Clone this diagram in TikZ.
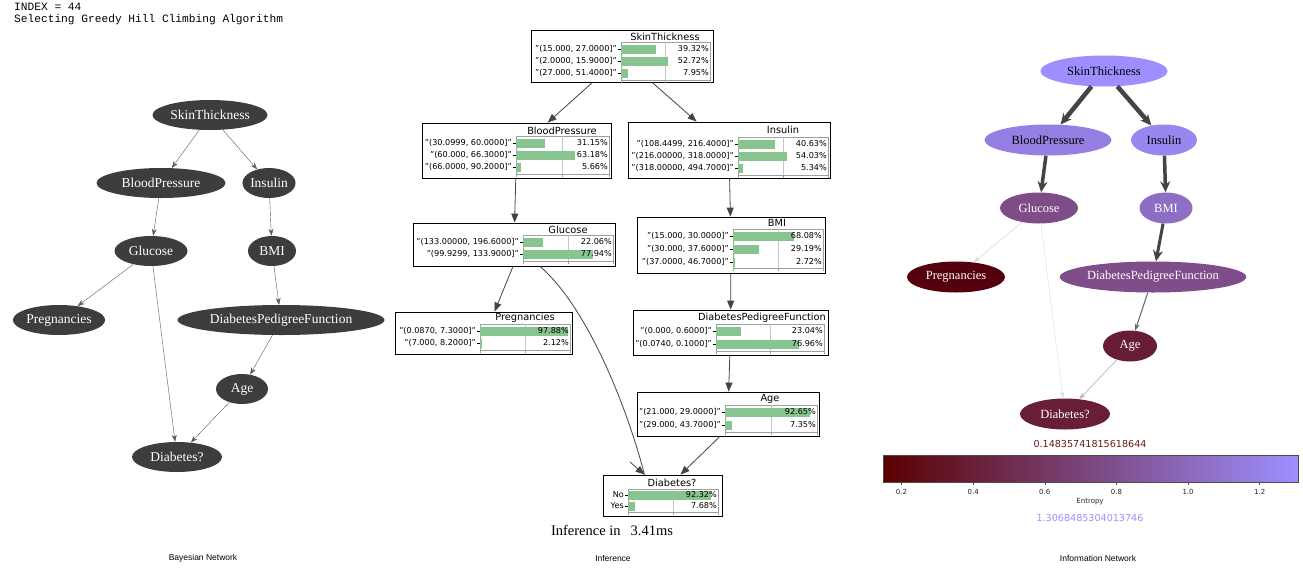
\documentclass[tikz,border=0pt]{standalone}
\usepackage{fontspec}
\setmainfont{Liberation Serif}
\setsansfont{DejaVu Sans}
\newfontfamily\idxfont{Liberation Mono}
\newfontfamily\capfont{Liberation Sans}
\usetikzlibrary{shapes.geometric,arrows.meta}

\definecolor{bnfill}{HTML}{3D3D3D}
\definecolor{bnline}{HTML}{5A5A5A}
\definecolor{barfill}{HTML}{88C48F}
\definecolor{ieline}{HTML}{444444}
\definecolor{cbLow}{HTML}{5A0000}
\definecolor{cbHigh}{HTML}{9D8FFF}
% entropy colours of the information network
\colorlet{eST}{cbHigh}
\colorlet{eBP}{cbHigh!89!cbLow}
\colorlet{eIns}{cbHigh!94!cbLow}
\colorlet{eGlu}{cbHigh!53!cbLow}
\colorlet{eBMI}{cbHigh!77!cbLow}
\colorlet{ePreg}{cbLow!95!blue}
\colorlet{eDPF}{cbHigh!54!cbLow}
\colorlet{eAge}{cbHigh!20!cbLow}
\colorlet{eDia}{cbHigh!21!cbLow}

\tikzset{
  bnnode/.style={ellipse, fill=bnfill, text=white, inner sep=0pt, minimum height=30pt,
    font=\fontsize{13.5}{16}\selectfont},
  bnedge/.style={draw=bnline, -{Stealth[length=7pt,width=5pt]}},
  cpt/.style={draw, rectangle, inner sep=0pt, line width=0.8pt},
  cpttitle/.style={font=\sffamily\fontsize{9.8}{12}\selectfont, inner sep=0pt},
  lbl/.style={font=\sffamily\fontsize{8.1}{10}\selectfont, inner sep=0pt},
  ieedge/.style={draw=ieline, line width=0.8pt, -{Triangle[length=9pt,width=7pt]}},
  innode/.style={ellipse, inner sep=0pt, minimum height=31pt, font=\fontsize{12.5}{15}\selectfont},
  inedge/.style={draw=ieline, -{Stealth[length=11pt,width=10pt]}},
  thinedge/.style={-{Stealth[length=7pt,width=5pt]}},
  caption/.style={font=\capfont\fontsize{8.5}{10}\selectfont}
}

% one row of a table: name, x0, x1, y, label, percent
\newcommand\cptrow[6]{%
  \fill[barfill] (#2,#4-4.5) rectangle ({#2+(#3-#2)*#6/100},#4+4.5);
  \draw[line width=0.5pt] (#2-3,#4) -- (#2,#4);
  \node[lbl, anchor=east] (#1-l) at (#2-4,#4) {#5};
  \node[lbl, anchor=east] (#1-p) at (#3-1,#4) {#6\%};
}
% axes frame of a table: x0, x1, top, bottom
\newcommand\cptframe[4]{%
  \draw[gray!75, line width=0.5pt] (#1,#3) rectangle (#2,#4);
  \draw[gray!45, line width=0.5pt] ({(#1+#2)/2},#3) -- ({(#1+#2)/2},#4);
  \foreach \tx in {#1,{(#1+#2)/2},#2}
    \draw[gray!75, line width=0.5pt] ({\tx},#4) -- ({\tx},#4+2.5);
}

\begin{document}
\begin{tikzpicture}[x=1pt, y=-1pt]
  \fill[white] (0,0) rectangle (1303,568);
  \useasboundingbox (0,0) rectangle (1303,568);

  \node[font=\idxfont\fontsize{11.2}{12}\selectfont, anchor=north west, align=left, inner sep=0pt]
    (index) at (14,2.5) {INDEX = 44\\Selecting Greedy Hill Climbing Algorithm};

  % Bayesian network
  \node[bnnode, minimum width=115pt] (bST) at (210,115) {SkinThickness};
  \node[bnnode, minimum width=129pt] (bBP) at (161,183) {BloodPressure};
  \node[bnnode, minimum width=53pt] (bIns) at (269,183) {Insulin};
  \node[bnnode, minimum width=73pt] (bGlu) at (151,251) {Glucose};
  \node[bnnode, minimum width=48pt] (bBMI) at (272,251) {BMI};
  \node[bnnode, minimum width=81pt] (bPreg) at (59,320) {Pregnancies};
  \node[bnnode, minimum width=207pt] (bDPF) at (281,320) {DiabetesPedigreeFunction};
  \node[bnnode, minimum width=52pt] (bAge) at (242,389) {Age};
  \node[bnnode, minimum width=90pt] (bDia) at (177,457) {Diabetes?};

  \draw[bnedge] (bST) -- (bBP);
  \draw[bnedge] (bST) -- (bIns);
  \draw[bnedge] (bBP) -- (bGlu);
  \draw[bnedge] (bIns) -- (bBMI);
  \draw[bnedge] (bGlu) -- (bPreg);
  \draw[bnedge] (bGlu) -- (bDia);
  \draw[bnedge] (bBMI) -- (bDPF);
  \draw[bnedge] (bDPF) -- (bAge);
  \draw[bnedge] (bAge) -- (bDia);

  \node[caption] (capB) at (203,558) {Bayesian Network};

  % Inference
  \node[cpt, minimum width=182pt, minimum height=52pt] (mST) at (622,56) {};
  \node[cpttitle] (mST-t) at (665,37) {SkinThickness};
  \cptframe{621}{710}{42}{80}
  \cptrow{mST1}{621}{710}{49}{"(15.000, 27.0000]"}{39.32}
  \cptrow{mST2}{621}{710}{61}{"(2.0000, 15.9000]"}{52.72}
  \cptrow{mST3}{621}{710}{73}{"(27.000, 51.4000]"}{7.95}

  \node[cpt, minimum width=189pt, minimum height=55pt] (mBP) at (516.5,150.5) {};
  \node[cpttitle] (mBP-t) at (562,131) {BloodPressure};
  \cptframe{516}{609}{136}{174}
  \cptrow{mBP1}{516}{609}{143}{"(30.0999, 60.0000]"}{31.15}
  \cptrow{mBP2}{516}{609}{155}{"(60.000, 66.3000]"}{63.18}
  \cptrow{mBP3}{516}{609}{167}{"(66.0000, 90.2000]"}{5.66}

  \node[cpt, minimum width=202pt, minimum height=56pt] (mIns) at (729,150) {};
  \node[cpttitle] (mIns-t) at (783,130) {Insulin};
  \cptframe{738}{828}{137}{175}
  \cptrow{mIns1}{738}{828}{144}{"(108.4499, 216.4000]"}{40.63}
  \cptrow{mIns2}{738}{828}{156}{"(216.00000, 318.0000]"}{54.03}
  \cptrow{mIns3}{738}{828}{168}{"(318.00000, 494.7000]"}{5.34}

  \node[cpt, minimum width=202pt, minimum height=43pt] (mGlu) at (514,244.5) {};
  \node[cpttitle] (mGlu-t) at (568,230) {Glucose};
  \cptframe{523}{613}{235}{261}
  \cptrow{mGlu1}{523}{613}{242}{"(133.00000, 196.6000]"}{22.06}
  \cptrow{mGlu2}{523}{613}{254}{"(99.9299, 133.9000]"}{77.94}

  \node[cpt, minimum width=188pt, minimum height=56pt] (mBMI) at (731,245) {};
  \node[cpttitle] (mBMI-t) at (777,223) {BMI};
  \cptframe{733}{823}{229}{268}
  \cptrow{mBMI1}{733}{823}{236}{"(15.000, 30.0000]"}{68.08}
  \cptrow{mBMI2}{733}{823}{249}{"(30.000, 37.6000]"}{29.19}
  \cptrow{mBMI3}{733}{823}{262}{"(37.0000, 46.7000]"}{2.72}

  \node[cpt, minimum width=177pt, minimum height=42pt] (mPreg) at (483.5,333) {};
  \node[cpttitle] (mPreg-t) at (525,318) {Pregnancies};
  \cptframe{480}{570}{324}{350}
  \cptrow{mPreg1}{480}{570}{331}{"(0.0870, 7.3000]"}{97.88}
  \cptrow{mPreg2}{480}{570}{343}{"(7.000, 8.2000]"}{2.12}

  \node[cpt, minimum width=195pt, minimum height=45pt] (mDPF) at (730.5,332.5) {};
  \node[cpttitle] (mDPF-t) at (762,318) {DiabetesPedigreeFunction};
  \cptframe{716}{824}{324}{351}
  \cptrow{mDPF1}{716}{824}{331}{"(0.000, 0.6000]"}{23.04}
  \cptrow{mDPF2}{716}{824}{344}{"(0.0740, 0.1000]"}{76.96}

  \node[cpt, minimum width=182pt, minimum height=44pt] (mAge) at (728,414) {};
  \node[cpttitle] (mAge-t) at (770,399) {Age};
  \cptframe{725}{817}{405}{432}
  \cptrow{mAge1}{725}{817}{412}{"(21.000, 29.0000]"}{92.65}
  \cptrow{mAge2}{725}{817}{425}{"(29.000, 43.7000]"}{7.35}

  \node[cpt, minimum width=119pt, minimum height=41pt] (mDia) at (662.5,495.5) {};
  \node[cpttitle] (mDia-t) at (672,483) {Diabetes?};
  \cptframe{628}{718}{489}{512}
  \cptrow{mDia1}{628}{718}{495}{No}{92.32}
  \cptrow{mDia2}{628}{718}{506}{Yes}{7.68}

  \draw[ieedge] (mST) -- (mBP);
  \draw[ieedge] (mST) -- (mIns);
  \draw[ieedge] (mBP) -- (mGlu);
  \draw[ieedge] (mIns) -- (mBMI);
  \draw[ieedge] ([xshift=-1pt]mGlu.south) -- ([xshift=11pt]mPreg.north);
  \draw[draw=ieline, line width=0.8pt] ([xshift=26pt]mGlu.south)
    .. controls (585,305) and (625,400) .. ([xshift=-18pt]mDia.north);
  \draw[ieedge] (630,462) -- ([xshift=-18pt]mDia.north);
  \draw[ieedge] (mBMI) -- (mDPF);
  \draw[ieedge] (mDPF) -- (mAge);
  \draw[ieedge] ([xshift=-8pt]mAge.south) -- ([xshift=18pt]mDia.north);

  \node[font=\fontsize{14.5}{16}\selectfont] (itime) at (612,530) {Inference in\hspace{10pt}3.41ms};
  \node[caption] (capI) at (613,558) {Inference};

  % Information network
  \node[innode, fill=eST, minimum width=127pt] (iST) at (1104,71) {SkinThickness};
  \node[innode, fill=eBP, minimum width=127pt] (iBP) at (1048,140) {BloodPressure};
  \node[innode, fill=eIns, minimum width=66pt] (iIns) at (1164,140) {Insulin};
  \node[innode, fill=eGlu, text=white, minimum width=78pt] (iGlu) at (1039,208) {Glucose};
  \node[innode, fill=eBMI, text=white, minimum width=53pt] (iBMI) at (1166,208) {BMI};
  \node[innode, fill=ePreg, text=white, minimum width=98pt] (iPreg) at (956,277) {Pregnancies};
  \node[innode, fill=eDPF, text=white, minimum width=174pt] (iDPF) at (1153,277) {DiabetesPedigreeFunction};
  \node[innode, fill=eAge, text=white, minimum width=54pt] (iAge) at (1130,346) {Age};
  \node[innode, fill=eDia, text=white, minimum width=90pt] (iDia) at (1065,414) {Diabetes?};

  \draw[inedge, line width=4.5pt] (iST) -- (iBP);
  \draw[inedge, line width=4.5pt] (iST) -- (iIns);
  \draw[inedge, line width=3.5pt] (iBP) -- (iGlu);
  \draw[inedge, line width=3.5pt] (iIns) -- (iBMI);
  \draw[inedge, line width=3pt] (iBMI) -- (iDPF);
  \draw[thinedge, draw=gray!80!black, line width=1pt] (iDPF) -- (iAge);
  \draw[thinedge, draw=gray!30, line width=0.6pt] (iGlu) -- (iPreg);
  \draw[thinedge, draw=gray!25, line width=0.5pt] (iGlu) -- (iDia);
  \draw[thinedge, draw=gray!55, line width=0.7pt] (iAge) -- (iDia);

  % colour bar
  \node[font=\sffamily\fontsize{9.6}{11}\selectfont, text=cbLow!90!white] (hmin) at (1090,444) {0.14835741815618644};
  \shade[left color=cbLow, right color=cbHigh] (883,455) rectangle (1298,482);
  \draw[gray!60!black, line width=0.6pt] (883,455) rectangle (1298,482);
  \foreach \v in {0.2,0.4,0.6,0.8,1.0,1.2} {
    \draw[gray!60!black, line width=0.5pt] ({883+(\v-0.14836)*358.23},482) -- ++(0,3);
    \node[font=\sffamily\fontsize{7}{8}\selectfont, text=gray!30!black] (t\v) at ({883+(\v-0.14836)*358.23},492) {\v};
  }
  \node[font=\sffamily\fontsize{7}{8}\selectfont, text=gray!30!black] (elabel) at (1090,502) {Entropy};
  \node[font=\sffamily\fontsize{9.6}{11}\selectfont, text=cbHigh] (hmax) at (1090,518) {1.3068485304013746};

  \node[caption] (capN) at (1098,558) {Information Network};
\end{tikzpicture}
\end{document}
